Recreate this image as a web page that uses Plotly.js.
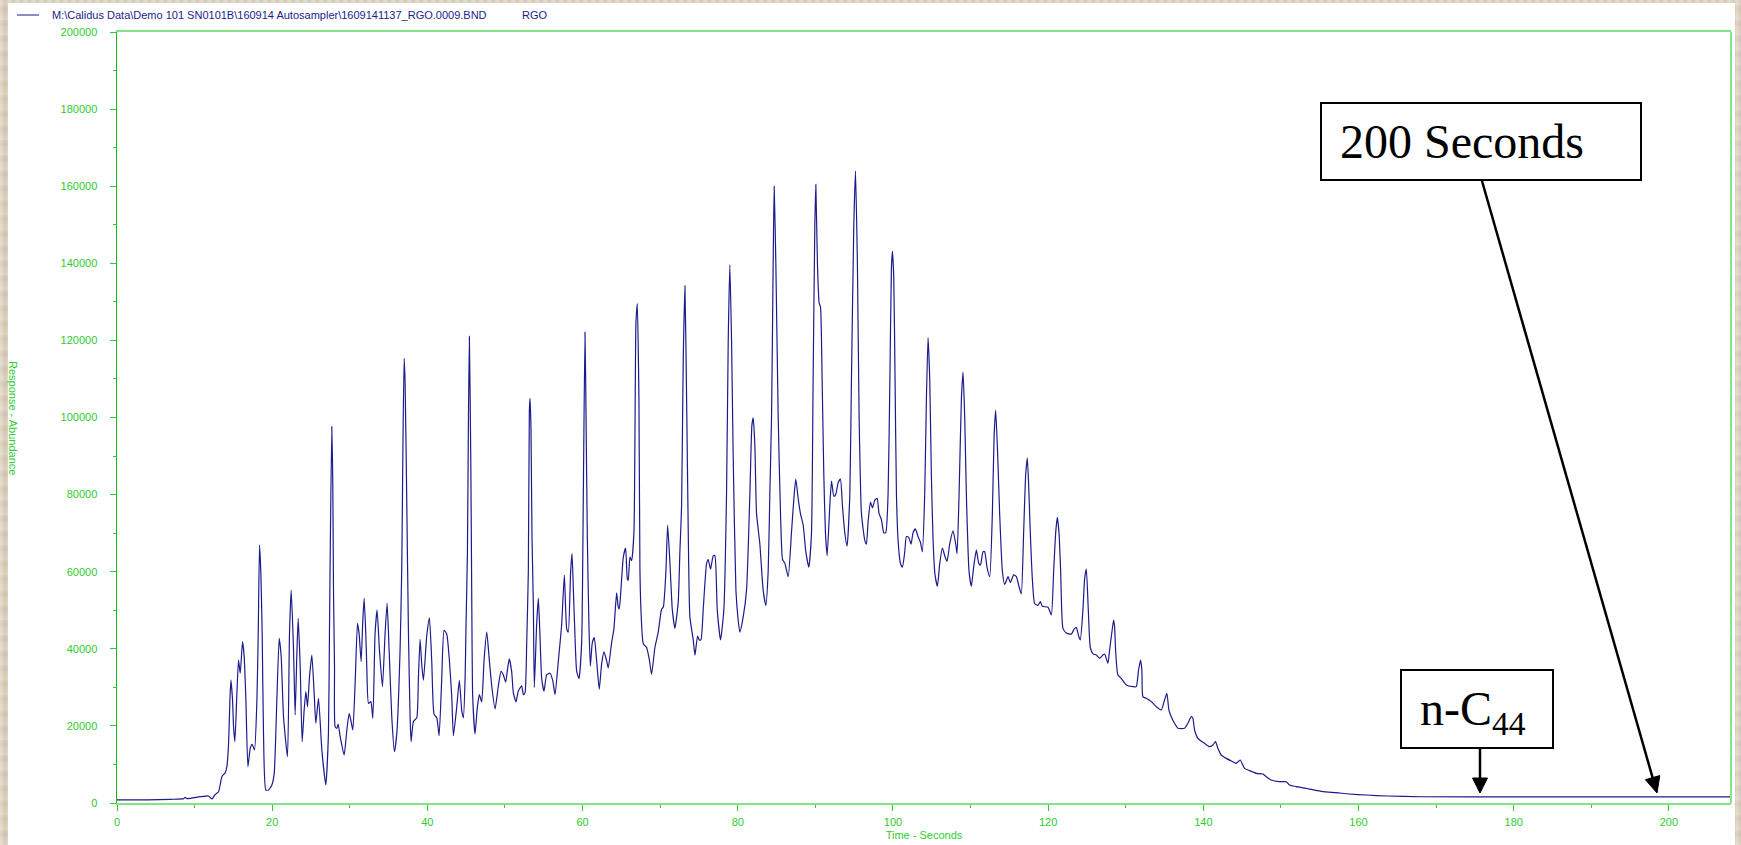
<!DOCTYPE html>
<html>
<head>
<meta charset="utf-8">
<script src="https://cdn.plot.ly/plotly-3.0.1.min.js"></script>
<style>
  html, body { margin:0; padding:0; }
  body {
    width:1741px; height:845px; overflow:hidden; position:relative;
    background-color:#ddd3c1;
    background-image:
      repeating-linear-gradient(90deg, rgba(255,255,255,0.18) 0px, rgba(255,255,255,0.0) 3px, rgba(120,100,70,0.10) 5px, rgba(255,255,255,0.0) 8px),
      repeating-linear-gradient(0deg, rgba(255,255,255,0.15) 0px, rgba(255,255,255,0.0) 7px, rgba(120,100,70,0.08) 11px, rgba(255,255,255,0.0) 15px);
  }
  #panel { position:absolute; left:8px; top:3px; width:1727px; height:842px; background:#ffffff; }
  #chart { position:absolute; left:0; top:0; width:1741px; height:845px; }
</style>
</head>
<body>
<div id="panel"></div>
<div id="chart"></div>
<script>
// ---- data ----
const timeSec = [
  0, 4, 6.9, 8.6, 8.8, 9.0, 10.7, 11.8, 12.23, 12.66,
  13.09, 13.52, 13.95, 14.16, 14.38, 14.55, 14.68, 14.89, 15.02, 15.19,
  15.45, 15.66, 15.88, 16.18, 16.39, 16.61, 16.87, 17.17, 17.42, 17.72,
  18.03, 18.2, 18.37, 18.54, 18.71, 18.88, 19.18, 19.53, 19.96, 20.26,
  20.6, 20.9, 21.16, 21.46, 21.97, 22.23, 22.45, 22.75, 22.96, 23.18,
  23.35, 23.61, 23.86, 24.12, 24.34, 24.55, 24.81, 25.11, 25.41, 25.62,
  25.97, 26.4, 26.91, 27.25, 27.38, 27.47, 27.68, 27.81, 27.9, 28.03,
  28.11, 28.33, 28.5, 28.76, 29.27, 29.62, 29.92, 30.13, 30.39, 30.69,
  30.99, 31.2, 31.46, 31.68, 31.85, 32.06, 32.19, 32.41, 32.71, 32.97,
  33.26, 33.52, 33.82, 34.21, 34.55, 34.81, 35.07, 35.41, 35.75, 36.06,
  36.48, 36.7, 36.83, 37.0, 37.13, 37.34, 37.56, 37.77, 37.9, 38.2,
  38.63, 38.84, 39.06, 39.27, 39.49, 39.92, 40.26, 40.56, 40.86, 41.21,
  41.51, 41.85, 42.15, 42.49, 42.84, 43.14, 43.35, 43.78, 44.12, 44.43,
  44.64, 44.86, 44.98, 45.16, 45.28, 45.41, 45.59, 45.71, 45.84, 46.14,
  46.44, 46.7, 47.0, 47.3, 47.65, 47.99, 48.29, 48.72, 49.15, 49.49,
  49.79, 50.09, 50.35, 50.56, 50.86, 51.08, 51.42, 51.72, 52.15, 52.37,
  52.58, 52.8, 53.01, 53.14, 53.23, 53.35, 53.48, 53.66, 53.78, 54.08,
  54.3, 54.51, 54.73, 55.03, 55.37, 55.8, 56.15, 56.45, 56.88, 57.3,
  57.65, 57.95, 58.16, 58.46, 58.64, 58.81, 59.02, 59.24, 59.54, 59.88,
  60.09, 60.31, 60.44, 60.61, 60.82, 61.0, 61.25, 61.51, 61.81, 62.15,
  62.45, 62.76, 63.1, 63.31, 63.74, 64.04, 64.39, 64.6, 64.73, 64.9,
  65.25, 65.55, 65.76, 65.89, 66.1, 66.32, 66.62, 66.88, 67.05, 67.26,
  67.39, 67.52, 67.82, 68.25, 68.59, 68.89, 69.32, 69.75, 70.18, 70.4,
  70.74, 70.96, 71.26, 71.56, 71.9, 72.33, 72.54, 72.76, 72.97, 73.19,
  73.4, 73.62, 73.83, 74.26, 74.48, 74.82, 75.03, 75.25, 75.55, 75.98,
  76.19, 76.49, 76.84, 77.05, 77.35, 77.78, 78.21, 78.55, 78.77, 78.98,
  79.2, 79.41, 79.76, 80.06, 80.27, 80.7, 81.13, 81.56, 81.82, 81.99,
  82.2, 82.42, 82.85, 83.27, 83.62, 83.92, 84.13, 84.35, 84.56, 84.69,
  84.91, 85.21, 85.51, 85.77, 86.07, 86.5, 86.92, 87.27, 87.48, 87.78,
  88.08, 88.43, 88.77, 89.16, 89.5, 89.71, 89.93, 90.06, 90.27, 90.49,
  90.66, 90.87, 91.09, 91.3, 91.52, 91.86, 92.08, 92.38, 92.63, 92.93,
  93.23, 93.49, 93.79, 94.09, 94.44, 94.65, 94.95, 95.17, 95.42, 95.64,
  95.94, 96.37, 96.58, 96.8, 97.1, 97.36, 97.66, 97.96, 98.21, 98.51,
  98.81, 99.07, 99.37, 99.59, 99.8, 99.93, 100.1, 100.27, 100.45, 100.66,
  100.96, 101.22, 101.52, 101.73, 102.03, 102.33, 102.59, 102.89, 103.23, 103.54,
  103.79, 104.09, 104.31, 104.52, 104.74, 104.95, 105.17, 105.42, 105.73, 106.03,
  106.37, 106.67, 106.97, 107.31, 107.74, 108.09, 108.26, 108.52, 108.82, 109.03,
  109.25, 109.46, 109.8, 110.1, 110.4, 110.75, 111.05, 111.27, 111.61, 111.82,
  112.12, 112.47, 112.81, 113.03, 113.24, 113.5, 113.75, 114.1, 114.4, 114.83,
  115.13, 115.56, 115.9, 116.24, 116.54, 116.84, 117.1, 117.32, 117.53, 117.7,
  117.96, 118.26, 118.69, 118.99, 119.25, 119.98, 120.41, 120.71, 120.97, 121.18,
  121.4, 121.61, 121.91, 122.34, 122.98, 123.41, 123.63, 123.93, 124.14, 124.49,
  124.7, 124.92, 125.17, 125.43, 125.78, 126.2, 126.63, 127.06, 127.28, 127.7,
  127.92, 128.14, 128.43, 128.56, 128.69, 128.99, 129.42, 130.07, 130.92, 131.35,
  131.65, 131.91, 132.08, 132.21, 132.64, 133.29, 133.93, 134.58, 135.0, 135.3,
  135.56, 135.86, 136.29, 136.72, 137.58, 138.01, 138.44, 138.65, 138.87, 139.3,
  140.15, 140.8, 141.23, 141.57, 141.87, 142.3, 142.94, 143.8, 144.23, 144.75,
  145.31, 145.95, 146.81, 147.67, 148.1, 148.74, 149.81, 150.67, 151.1, 151.96,
  153.25, 155.4, 157.11, 158.83, 161, 163.6, 168, 180, 195, 208
];
const abundance = [
  800, 820, 960, 1120, 1470, 1150, 1630, 1820, 1040, 2250,
  2930, 6830, 7870, 9420, 15480, 26720, 31910, 26720, 19800, 15910,
  28450, 37090, 33640, 41850, 37960, 26720, 9420, 14180, 15220, 13750,
  26720, 44020, 66930, 59580, 44010, 18070, 3370, 3370, 4670, 7700,
  26720, 42720, 37960, 22390, 12020, 44010, 55250, 39690, 22830, 38830,
  47900, 35370, 15910, 24120, 28880, 24990, 32770, 38390, 28450, 20670,
  27150, 13750, 4670, 18070, 44010, 63030, 97620, 82930, 55250, 35370,
  19800, 19370, 20490, 17210, 12450, 18940, 23260, 21530, 18940, 31040,
  46610, 44010, 36660, 47470, 53090, 44010, 35370, 25850, 26290, 21960,
  44010, 50060, 39690, 30180, 44010, 51800, 39690, 22390, 13310, 18070,
  39690, 61300, 88970, 115350, 108870, 78600, 44010, 22390, 15910, 21160,
  22090, 32280, 42470, 35980, 31810, 43400, 48030, 36910, 23010, 22090,
  17460, 32280, 44780, 43860, 36910, 27640, 17460, 24870, 31810, 23940,
  22090, 32280, 46170, 64700, 97130, 121030, 89720, 55440, 27640, 17920,
  24870, 28110, 26250, 36910, 44320, 36910, 30420, 24400, 30420, 34130,
  33200, 31350, 35060, 37370, 34130, 28570, 26250, 29030, 30420, 28110,
  28570, 41540, 60070, 101760, 105000, 97130, 69330, 50810, 29960, 46170,
  53120, 43400, 32280, 29030, 33200, 33670, 31810, 28110, 36910, 46170,
  59140, 45250, 44320, 60070, 64700, 55440, 43400, 34130, 32280, 41540,
  78600, 122140, 101760, 69330, 46170, 35520, 41540, 42930, 36910, 29500,
  35980, 39220, 36910, 35060, 41540, 45250, 54510, 50810, 50350, 54050,
  63780, 66090, 58220, 57750, 63780, 62850, 70260, 124920, 129550, 105470,
  61000, 50270, 41320, 40340, 37350, 33390, 40340, 44310, 50270, 50760,
  60180, 72110, 62180, 50270, 45290, 52240, 65160, 77070, 114790, 134130,
  105860, 70110, 48270, 42310, 38340, 43320, 42310, 42310, 50270, 62180,
  63160, 60670, 64150, 64150, 50270, 42310, 50270, 80050, 119740, 139610,
  119740, 89960, 55230, 47290, 44310, 48270, 55230, 80050, 97930, 99890,
  92940, 75070, 67130, 55230, 51260, 60180, 80050, 99890, 139610, 159950,
  139610, 99890, 75070, 63160, 62180, 58700, 70110, 80050, 84020, 79040,
  75070, 72110, 65160, 61190, 70110, 109830, 149540, 160460, 139610, 129670,
  128690, 109830, 85010, 70110, 64150, 77070, 83530, 79560, 80050, 83030,
  84020, 77070, 70110, 66640, 80050, 109830, 149540, 163940, 139610, 99890,
  75070, 68120, 67130, 73100, 78050, 76570, 78540, 79040, 75070, 73590,
  70110, 70110, 80050, 107830, 138620, 143080, 136620, 109830, 80050, 68120,
  62180, 61190, 65160, 69130, 68920, 67130, 70110, 71100, 69130, 67630,
  65160, 80050, 104850, 120750, 109830, 85010, 68120, 59190, 56210, 62180,
  66150, 64150, 62670, 67130, 70610, 67130, 64670, 80050, 104850, 111800,
  99890, 80050, 60180, 56210, 61190, 65650, 62180, 61690, 65160, 65160,
  61190, 58700, 75070, 94940, 101890, 89960, 75070, 60180, 56700, 58700,
  57200, 59190, 58700, 56210, 54240, 70110, 85010, 89470, 80050, 70110,
  58210, 51750, 51260, 52240, 51050, 50760, 48770, 60180, 70110, 74090,
  70110, 60180, 45290, 44100, 43810, 45290, 45500, 43320, 42310, 50270,
  58210, 60700, 50270, 40340, 38700, 38390, 37530, 38390, 38650, 36230,
  39690, 43150, 47470, 45740, 39690, 33200, 32340, 30610, 30180, 30180,
  34500, 37090, 34500, 27580, 27150, 26290, 24990, 24120, 26720, 28450,
  24120, 22390, 20670, 19370, 19370, 20670, 22390, 21960, 18940, 16780,
  15480, 14610, 15050, 15910, 14180, 12450, 11580, 10720, 10290, 11150,
  8990, 8390, 7700, 7520, 6830, 5970, 5530, 5530, 4670, 4240,
  3800, 2940, 2680, 2330, 2070, 1820, 1620, 1600, 1600, 1600
];
const filePath = "M:\\Calidus Data\\Demo 101 SN0101B\\160914 Autosampler\\1609141137_RGO.0009.BND";
const seriesName = "RGO";
const xTitle = "Time - Seconds";
const yTitle = "Response - Abundance";
const calloutTime = "200 Seconds";
const calloutPeak = "n-C<sub>44</sub>";

// ---- layout helpers (pixel -> paper) ----
const L = 117, R = 10, T = 32, B = 42, W = 1741, H = 845;
const PW = W - L - R, PH = H - T - B;
const PX = x => (x - L) / PW;
const PY = y => (H - B - y) / PH;

// arrow drawn as a line plus a filled triangular head (pixel coordinates in, paper shapes out)
function arrowShapes(x0, y0, x1, y1, headLen, halfW, color, width) {
  const dx = x1 - x0, dy = y1 - y0, len = Math.hypot(dx, dy);
  const ux = dx / len, uy = dy / len, nx = -uy, ny = ux;
  const bx = x1 - headLen * ux, by = y1 - headLen * uy;
  const p = (x, y) => PX(x) + ',' + PY(y);
  return [
    { type: 'line', xref: 'paper', yref: 'paper', x0: PX(x0), y0: PY(y0), x1: PX(bx + ux), y1: PY(by + uy),
      line: { color: color, width: width } },
    { type: 'path', xref: 'paper', yref: 'paper',
      path: 'M' + p(x1, y1) + ' L' + p(bx + halfW * nx, by + halfW * ny) + ' L' + p(bx - halfW * nx, by - halfW * ny) + ' Z',
      fillcolor: color, line: { color: color, width: 1 } }
  ];
}

const green = '#2ecc2e';
const lightGreen = '#86e286';
const navy = '#1b1b8c';
const sans = 'Liberation Sans, Arial, sans-serif';
const serif = 'Liberation Serif, Times New Roman, serif';

const trace = {
  x: timeSec, y: abundance, type: 'scatter', mode: 'lines',
  line: { color: navy, width: 1.2, shape: 'spline', smoothing: 0.5 },
  hoverinfo: 'skip', showlegend: false
};

const layout = {
  width: W, height: H,
  margin: { l: L, r: R, t: T, b: B, pad: 0 },
  paper_bgcolor: 'rgba(0,0,0,0)', plot_bgcolor: '#ffffff',
  showlegend: false,
  xaxis: {
    range: [0, 208], tick0: 0, dtick: 20, ticks: 'outside', ticklen: 6, tickwidth: 1,
    tickcolor: green, showline: true, linecolor: lightGreen, linewidth: 2, mirror: true,
    showgrid: false, zeroline: false, ticklabelstandoff: 2,
    tickfont: { family: sans, size: 11, color: green },
    minor: { dtick: 10, ticks: 'outside', ticklen: 3, tickcolor: green, showgrid: false },
    title: { text: xTitle, font: { family: sans, size: 11, color: green }, standoff: 4 }
  },
  yaxis: {
    range: [0, 200000], tick0: 0, dtick: 20000, ticks: 'outside', ticklen: 6, tickwidth: 1,
    tickcolor: green, showline: true, linecolor: '#10c010', linewidth: 1.5, mirror: false,
    showgrid: false, zeroline: false, tickformat: 'd', ticklabelstandoff: 10,
    tickfont: { family: sans, size: 11, color: green },
    minor: { dtick: 10000, ticks: 'outside', ticklen: 3, tickcolor: green, showgrid: false }
  },
  shapes: [
    { type: 'line', xref: 'paper', yref: 'paper', x0: 1, x1: 1, y0: 0, y1: 1,
      line: { color: lightGreen, width: 2 } },
    { type: 'line', xref: 'paper', yref: 'paper', x0: PX(17), x1: PX(39), y0: PY(15), y1: PY(15),
      line: { color: navy, width: 1 } },
    { type: 'rect', xref: 'paper', yref: 'paper', x0: PX(1321), x1: PX(1641), y0: PY(180), y1: PY(103),
      line: { color: '#000000', width: 2 }, fillcolor: '#ffffff' },
    { type: 'rect', xref: 'paper', yref: 'paper', x0: PX(1401), x1: PX(1553), y0: PY(748), y1: PY(670),
      line: { color: '#000000', width: 2 }, fillcolor: '#ffffff' }
  ].concat(
    arrowShapes(1482, 181, 1657, 793, 16, 7.5, '#000000', 2.5),
    arrowShapes(1480, 749, 1480, 793, 15, 7.5, '#000000', 2.5)
  ),
  annotations: [
    { xref: 'paper', yref: 'paper', x: PX(50), y: PY(14.5), xanchor: 'left', yanchor: 'middle',
      text: filePath, showarrow: false, font: { family: sans, size: 11, color: navy } },
    { xref: 'paper', yref: 'paper', x: PX(520), y: PY(14.5), xanchor: 'left', yanchor: 'middle',
      text: seriesName, showarrow: false, font: { family: sans, size: 11, color: navy } },
    { xref: 'paper', yref: 'paper', x: PX(13.5), y: PY(417.5), xanchor: 'center', yanchor: 'middle',
      text: yTitle, textangle: 90, showarrow: false, font: { family: sans, size: 11, color: green } },
    { xref: 'paper', yref: 'paper', x: PX(1338), y: PY(141), xanchor: 'left', yanchor: 'middle',
      text: calloutTime, showarrow: false, font: { family: serif, size: 48, color: '#000000' } },
    { xref: 'paper', yref: 'paper', x: PX(1418), y: PY(712), xanchor: 'left', yanchor: 'middle',
      text: calloutPeak, showarrow: false, font: { family: serif, size: 48, color: '#000000' } }
  ]
};

Plotly.newPlot('chart', [trace], layout, { staticPlot: true, displayModeBar: false });
</script>
</body>
</html>
